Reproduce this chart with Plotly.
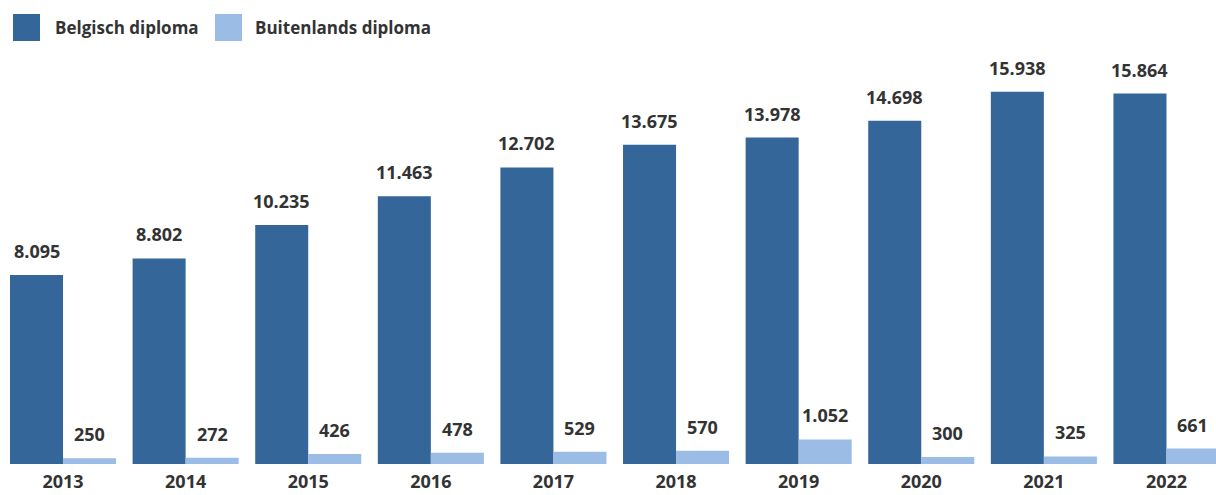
import plotly.graph_objects as go

years = ["2013", "2014", "2015", "2016", "2017", "2018", "2019", "2020", "2021", "2022"]
belgisch = [8095, 8802, 10235, 11463, 12702, 13675, 13978, 14698, 15938, 15864]
buitenlands = [250, 272, 426, 478, 529, 570, 1052, 300, 325, 661]
series_names = ["Belgisch diploma", "Buitenlands diploma"]
colors = ["#346699", "#9BBCE4"]

W, H = 1216, 495
FONT = "Open Sans"
TXT = "#333333"

fig = go.Figure()
fig.add_trace(go.Bar(x=years, y=belgisch, name=series_names[0], marker_color=colors[0],
                     marker_line_width=0, hoverinfo="skip"))
fig.add_trace(go.Bar(x=years, y=buitenlands, name=series_names[1], marker_color=colors[1],
                     marker_line_width=0, hoverinfo="skip"))

def fmt(v):
    return f"{v:,}".replace(",", ".")

bar_px = 53
annots = []
for i, yr in enumerate(years):
    for vals, shift in ((belgisch, -bar_px / 2), (buitenlands, bar_px / 2)):
        annots.append(dict(x=i, y=vals[i], xref="x", yref="y", text="<b>" + fmt(vals[i]) + "</b>",
                           showarrow=False, xshift=shift, yshift=10, yanchor="bottom",
                           font=dict(family=FONT, size=18, color=TXT)))

# manual legend
plot_top, plot_bot = 60, 464
ph = plot_bot - plot_top
def py(p):
    return (plot_bot - p) / ph
shapes = []
leg = [(13, 53), (215, 253)]
for (sx, tx), name, col in zip(leg, series_names, colors):
    shapes.append(dict(type="rect", xref="paper", yref="paper", x0=sx / W, x1=(sx + 27) / W,
                       y0=py(41), y1=py(14), fillcolor=col, line_width=0))
    annots.append(dict(x=tx / W, y=py(28), xref="paper", yref="paper", xanchor="left", yanchor="middle",
                       text="<b>" + name + "</b>", showarrow=False,
                       font=dict(family=FONT, size=17, color=TXT)))

fig.update_layout(
    width=W, height=H,
    margin=dict(l=0, r=0, t=plot_top, b=H - plot_bot, autoexpand=False),
    barmode="group", bargap=0.135, bargroupgap=0,
    plot_bgcolor="white", paper_bgcolor="white",
    showlegend=False,
    annotations=annots, shapes=shapes,
    xaxis=dict(type="category", range=[-0.514, 9.404], showgrid=False, zeroline=False,
               showline=False, ticks="", ticklabelstandoff=5, automargin=False,
               tickfont=dict(family=FONT, size=18, color=TXT), tickprefix="<b>", ticksuffix="</b>"),
    yaxis=dict(range=[0, 17300], visible=False, showgrid=False, zeroline=False, automargin=False),
)

fig.write_html("out.html", config={"displayModeBar": False},
               post_script="document.body.style.margin='0';")
